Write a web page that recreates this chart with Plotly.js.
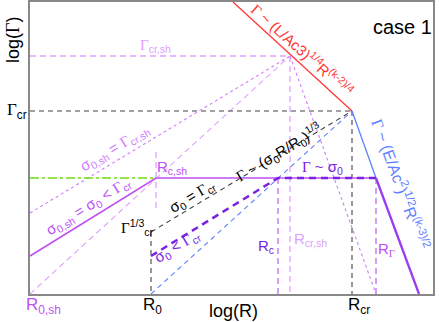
<!DOCTYPE html>
<html>
<head>
<meta charset="utf-8">
<script src="https://cdn.plot.ly/plotly-3.0.1.min.js"></script>
<style>
  html, body { margin: 0; padding: 0; background: #fff; }
  #chart { width: 439px; height: 322px; }
</style>
</head>
<body>
<div id="chart"></div>
<script>
// schematic log(R) positions (arbitrary units)
const R0sh = 0, R0 = 121, Rcsh = 126, Rc = 248, Rcrsh = 260, Rcr = 322, RG = 346, Rend = 389;
const Rtop = 203, Rmax = 403;
// schematic log(Gamma) levels
const Gsigma = 116, Gcr = 183, Gcrsh = 238, Gmax = 292;
const GshStart = 38, GdotStart = 81, GR0 = 62, GdarkStart = 38;
const GcshTop = 142, GcshBottom = 84;

const G = '<span style="font-family:Liberation Serif">Γ</span>';

const pink = '#e0a0ff', pinkDot = '#d27cff', purple = '#c050f5', dark = '#7a22e2',
      midPurple = '#bf78f5', blue = '#5f80ff', red = '#ff3535', green = '#72dc10', black = '#444';

function seg(xs, ys, color, width, dash) {
    return { x: xs, y: ys, mode: 'lines', type: 'scatter', hoverinfo: 'skip',
             line: { color: color, width: width, dash: dash || 'solid' }, cliponaxis: false };
}

const traces = [
    // shell related (light pink)
    seg([R0sh, Rcrsh], [Gcrsh, Gcrsh], pink, 1.3, '6px,4px'),
    seg([Rcrsh, Rcrsh], [Gcrsh, 0], pink, 1.3, '6px,4px'),
    seg([R0sh, Rcrsh], [0, Gcrsh], pink, 1.1, '6px,4px'),
    seg([Rcsh, Rcsh], [GcshTop, GcshBottom], pink, 1.3, '6px,4px'),
    seg([R0sh, Rcrsh], [GdotStart, Gcrsh], pinkDot, 1.1, 'dot'),
    seg([Rcrsh, RG], [Gcrsh, 0], pinkDot, 1.1, 'dot'),
    // black reference lines
    seg([R0sh, Rcr], [Gcr, Gcr], black, 1.1, '5px,4px'),
    seg([Rcr, Rcr], [Gcr, 0], black, 1.1, '5px,4px'),
    seg([R0, R0], [GR0, 0], black, 1.1, '5px,4px'),
    seg([R0, Rcr], [GR0, Gcr], black, 1.1, '5px,4px'),
    // blue
    seg([R0, Rcr], [0, Gcr], blue, 1.1, '5px,4px'),
    seg([Rcr, RG], [Gcr, Gsigma], blue, 1.3),
    // red
    seg([Rtop, Rcr], [Gmax, Gcr], red, 1.3),
    // green
    seg([R0sh, Rcsh], [Gsigma, Gsigma], green, 1.4, 'dashdot'),
    // purple evolution
    seg([Rc, Rc], [Gsigma, 0], midPurple, 1.4, '6px,4px'),
    seg([RG, RG], [Gsigma, 0], midPurple, 1.4, '6px,4px'),
    seg([R0sh, Rcsh, RG], [GshStart, Gsigma, Gsigma], purple, 1.7),
    seg([R0, Rc, RG], [GdarkStart, Gsigma, Gsigma], dark, 2.5, '7px,5px'),
    seg([RG, Rend], [Gsigma, 0], '#9a3cf0', 2.3)
];

// labels placed in chart units; labels outside the frame go through paper coordinates
function ann(text, x, y, color, size, angle) {
    const outside = x < 0 || y < 0;
    return { text: text, showarrow: false,
             xref: outside ? 'paper' : 'x', yref: outside ? 'paper' : 'y',
             x: outside ? x / Rmax : x, y: outside ? y / Gmax : y,
             xanchor: 'center', yanchor: 'middle',
             textangle: angle || 0, font: { color: color, size: size } };
}

const annotations = [
    ann('case 1', 372, 267, '#000', 20),
    ann('log(' + G + ')', -17, 254, '#000', 18, -90),
    ann('log(R)', 203, -17, '#000', 18),
    ann(G + '<sub>cr</sub>', -13, 183, '#000', 17),
    ann('R<sub>0,sh</sub>', 13, -12, purple, 17),
    ann('R<sub>0</sub>', 122, -12, '#000', 17),
    ann('R<sub>cr</sub>', 329, -12, '#000', 17),
    ann(G + '<sub>cr,sh</sub>', 125, 248, pink, 15),
    ann('R<sub>c,sh</sub>', 142, 127, purple, 15),
    ann(G + ' ~ σ<sub>0</sub>', 292, 127, dark, 15),
    ann('R<sub>c</sub>', 236, 48, dark, 15),
    ann('R<sub>cr,sh</sub>', 280, 55, pink, 15),
    ann('R<sub>' + G + '</sub>', 356, 45, purple, 15),
    ann(G + '<sup>1/3</sup><sub>cr</sub>', 107, 67, '#000', 15),
    ann('σ<sub>0</sub> = ' + G + '<sub>cr</sub>', 162, 98, '#000', 15, -31),
    ann('σ<sub>0</sub> < ' + G + '<sub>cr</sub>', 147, 48, dark, 15, -31),
    ann('σ<sub>0,sh</sub> = σ<sub>0</sub> < ' + G + '<sub>cr</sub>', 58, 88, purple, 15, -32),
    ann('σ<sub>0,sh</sub> = ' + G + '<sub>cr,sh</sub>', 84, 146, pinkDot, 15, -31),
    ann(G + ' ~ (σ<sub>0</sub>R/R<sub>0</sub>)<sup>1/3</sup>', 248, 142, '#000', 15, -31),
    ann(G + ' ~ (L/Ac3)<sup>1/4</sup>R<sup>(k-2)/4</sup>', 273, 245, red, 15, 42),
    ann(G + ' ~ (E/Ac<sup>2</sup>)<sup>1/2</sup>R<sup>(k-3)/2</sup>', 371, 110, blue, 16, 70)
];

const layout = {
    width: 439,
    height: 322,
    margin: { l: 30, r: 6, t: 2, b: 28 },
    paper_bgcolor: '#fff',
    plot_bgcolor: '#fff',
    font: { family: 'Liberation Sans, Arial, sans-serif', color: '#000' },
    showlegend: false,
    hovermode: false,
    xaxis: {
        range: [0, Rmax], showgrid: false, zeroline: false, showticklabels: false, ticks: '',
        showline: true, mirror: true, linecolor: '#888', linewidth: 2
    },
    yaxis: {
        range: [0, Gmax], showgrid: false, zeroline: false, showticklabels: false, ticks: '',
        showline: true, mirror: true, linecolor: '#888', linewidth: 2
    },
    annotations: annotations
};

Plotly.newPlot('chart', traces, layout, { displayModeBar: false, staticPlot: true });
</script>
</body>
</html>
